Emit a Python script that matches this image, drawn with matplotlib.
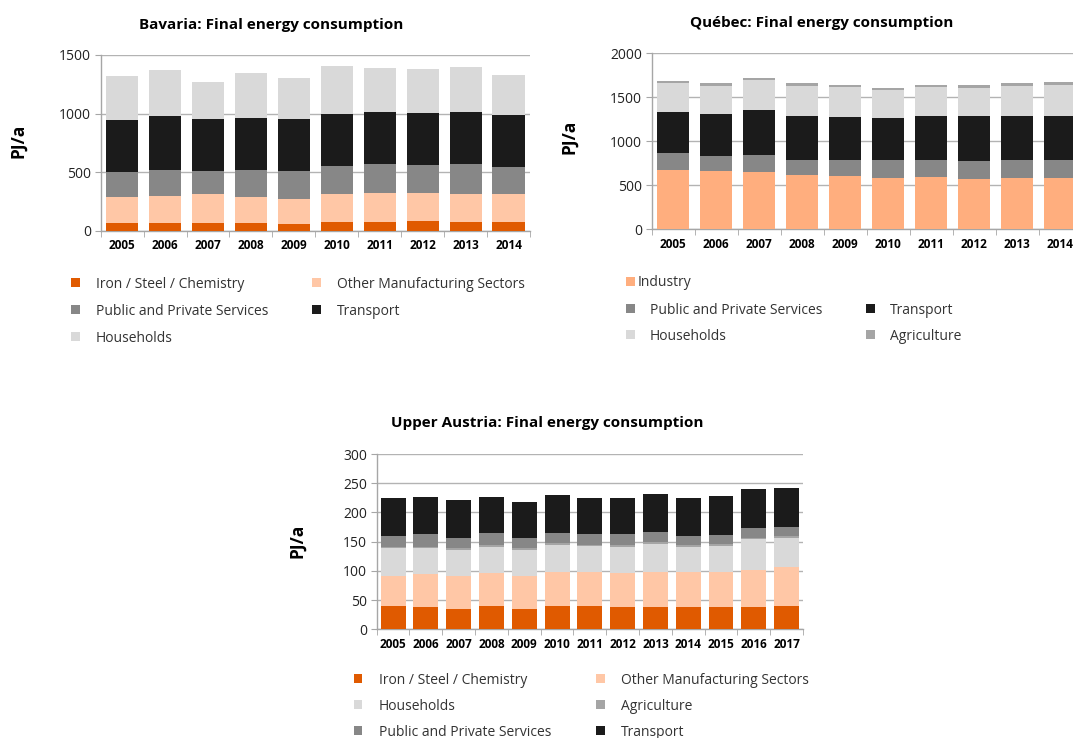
import matplotlib
matplotlib.use("Agg")
import matplotlib.pyplot as plt
from matplotlib.patches import Rectangle
import numpy as np

plt.rcParams['font.family'] = ['Open Sans', 'DejaVu Sans']

# ---------------- data ----------------
bav_years = ['2005', '2006', '2007', '2008', '2009', '2010', '2011', '2012', '2013', '2014']
bav_iron = [68, 68, 68, 68, 62, 74, 80, 85, 80, 80]
bav_other = [225, 233, 244, 225, 211, 238, 244, 239, 238, 232]
bav_services = [207, 219, 197, 227, 236, 242, 244, 239, 250, 231]
bav_transport = [446, 457, 448, 443, 443, 443, 449, 440, 443, 448]
bav_households = [375, 395, 310, 384, 355, 409, 375, 381, 387, 341]

que_years = ['2005', '2006', '2007', '2008', '2009', '2010', '2011', '2012', '2013', '2014']
que_industry = [670, 663, 652, 617, 602, 583, 591, 576, 583, 583]
que_services = [201, 170, 193, 175, 190, 201, 201, 197, 201, 209]
que_transport = [462, 478, 511, 500, 485, 481, 492, 519, 508, 492]
que_households = [334, 322, 345, 341, 337, 315, 330, 318, 341, 356]
que_agriculture = [22, 30, 22, 30, 30, 22, 30, 26, 30, 30]

ua_years = ['2005', '2006', '2007', '2008', '2009', '2010', '2011', '2012', '2013',
            '2014', '2015', '2016', '2017']
ua_iron = [40, 39, 35, 40, 35, 40, 40, 38, 39, 38, 38, 39, 40]
ua_other = [52, 55, 57, 56, 57, 58, 58, 58, 59, 60, 60, 63, 66]
ua_households = [47, 45, 44, 45, 44, 46, 45, 45, 48, 42, 45, 52, 50]
ua_agriculture = [2, 2, 3, 3, 3, 3, 2, 3, 4, 4, 3, 3, 4]
ua_services = [19, 22, 17, 21, 17, 18, 18, 19, 17, 16, 15, 16, 15]
ua_transport = [65, 63, 65, 62, 61, 64, 61, 61, 64, 65, 67, 67, 67]

C_IRON = '#E05A00'
C_OTHER = '#FFC7A6'
C_IND = '#FFAE7E'
C_SERV = '#878787'
C_TRANS = '#1B1B1B'
C_HH = '#D9D9D9'
C_AGRI = '#A5A5A5'

W, H = 1073, 738
fig = plt.figure(figsize=(W / 100, H / 100), dpi=100)


def px_axes(left, top, right, bottom):
    return fig.add_axes([left / W, 1 - bottom / H, (right - left) / W, (bottom - top) / H])


def style(ax, years, ymax, ystep):
    n = len(years)
    ax.set_xlim(-0.5, n - 0.5)
    ax.set_ylim(0, ymax)
    ax.set_yticks(np.arange(0, ymax + 1, ystep))
    ax.set_xticks(np.arange(n))
    ax.set_xticklabels(years, fontsize=8.5, fontweight='bold')
    ax.set_xticks(np.arange(n + 1) - 0.5, minor=True)
    ax.tick_params(axis='x', which='major', length=0, pad=6)
    ax.tick_params(axis='x', which='minor', length=4, color='#A6A6A6', direction='out')
    ax.tick_params(axis='y', length=4, color='#A6A6A6', labelsize=10, pad=3,
                   labelcolor='#222222')
    for s in ['top', 'right']:
        ax.spines[s].set_visible(False)
    for s in ['left', 'bottom']:
        ax.spines[s].set_color('#A6A6A6')
        ax.spines[s].set_linewidth(1.0)
    ax.yaxis.grid(True, color='#B3B3B3', linewidth=1.0)
    ax.set_axisbelow(True)
    ax.set_facecolor('white')


def stack(ax, series, colors, width=0.75):
    n = len(series[0])
    x = np.arange(n)
    bottom = np.zeros(n)
    for vals, c in zip(series, colors):
        ax.bar(x, vals, width, bottom=bottom, color=c, edgecolor='none', zorder=3)
        bottom = bottom + np.array(vals)


def legend_item(xm, y, xt, color, label):
    s = 9
    fig.patches.append(Rectangle(((xm - s / 2) / W, 1 - (y + s / 2) / H), s / W, s / H,
                                 transform=fig.transFigure, facecolor=color,
                                 edgecolor='none'))
    fig.text(xt / W, 1 - y / H, label, fontsize=10, va='center_baseline', ha='left',
             color='#333333')


TITLE_FS = 11
YLAB_FS = 12.5

# ---------------- Bavaria ----------------
ax1 = px_axes(100.7, 55, 530, 231)
style(ax1, bav_years, 1500, 500)
stack(ax1, [bav_iron, bav_other, bav_services, bav_transport, bav_households],
      [C_IRON, C_OTHER, C_SERV, C_TRANS, C_HH])
fig.text(271 / W, 1 - 25 / H, 'Bavaria: Final energy consumption', fontsize=TITLE_FS,
         fontweight='bold', ha='center', va='center')
fig.text(18 / W, 1 - 141 / H, 'PJ/a', fontsize=YLAB_FS, fontweight='bold', rotation=90,
         ha='center', va='center')
legend_item(75, 283, 96, C_IRON, 'Iron / Steel / Chemistry')
legend_item(316, 283, 337, C_OTHER, 'Other Manufacturing Sectors')
legend_item(75, 310, 96, C_SERV, 'Public and Private Services')
legend_item(316, 310, 337, C_TRANS, 'Transport')
legend_item(75, 336, 96, C_HH, 'Households')

# ---------------- Québec ----------------
ax2 = px_axes(651.7, 53.3, 1081.7, 229.3)
style(ax2, que_years, 2000, 500)
stack(ax2, [que_industry, que_services, que_transport, que_households, que_agriculture],
      [C_IND, C_SERV, C_TRANS, C_HH, C_AGRI])
fig.text(822 / W, 1 - 23 / H, 'Québec: Final energy consumption', fontsize=TITLE_FS,
         fontweight='bold', ha='center', va='center')
fig.text(569 / W, 1 - 137 / H, 'PJ/a', fontsize=YLAB_FS, fontweight='bold', rotation=90,
         ha='center', va='center')
legend_item(630, 281, 638, C_IND, 'Industry')
legend_item(630, 308, 650, C_SERV, 'Public and Private Services')
legend_item(870, 308, 890, C_TRANS, 'Transport')
legend_item(630, 334, 650, C_HH, 'Households')
legend_item(870, 334, 890, C_AGRI, 'Agriculture')

# ---------------- Upper Austria ----------------
ax3 = px_axes(376.7, 454, 803, 629.3)
style(ax3, ua_years, 300, 50)
stack(ax3, [ua_iron, ua_other, ua_households, ua_agriculture, ua_services, ua_transport],
      [C_IRON, C_OTHER, C_HH, C_AGRI, C_SERV, C_TRANS], width=0.76)
fig.text(547 / W, 1 - 423 / H, 'Upper Austria: Final energy consumption', fontsize=TITLE_FS,
         fontweight='bold', ha='center', va='center')
fig.text(297 / W, 1 - 541 / H, 'PJ/a', fontsize=YLAB_FS, fontweight='bold', rotation=90,
         ha='center', va='center')
legend_item(358, 678, 379, C_IRON, 'Iron / Steel / Chemistry')
legend_item(600, 678, 621, C_OTHER, 'Other Manufacturing Sectors')
legend_item(358, 704, 379, C_HH, 'Households')
legend_item(600, 704, 621, C_AGRI, 'Agriculture')
legend_item(358, 730, 379, C_SERV, 'Public and Private Services')
legend_item(600, 730, 621, C_TRANS, 'Transport')

fig.savefig('out.png', dpi=100)
